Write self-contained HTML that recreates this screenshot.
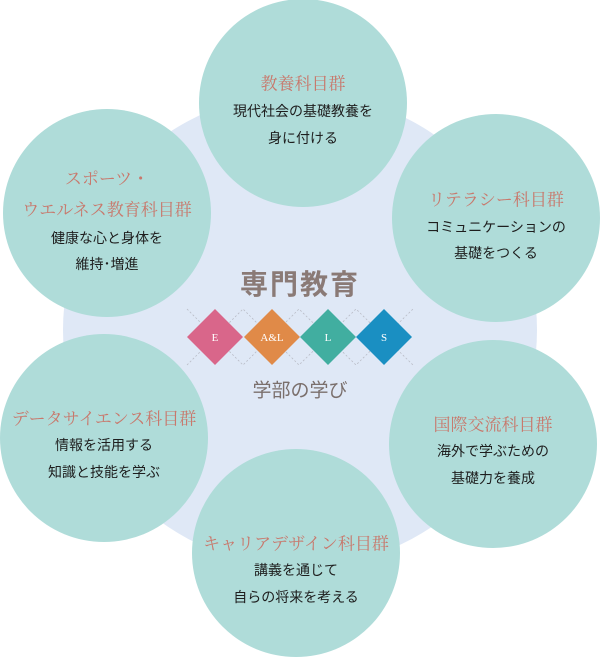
<!DOCTYPE html>
<html><head><meta charset="utf-8"><style>
html,body{margin:0;padding:0;background:#fff;}
body{width:600px;height:657px;position:relative;overflow:hidden;font-family:"Liberation Sans","Noto Sans CJK JP",sans-serif;}
.t{position:absolute;transform:translate(-50%,-50%);white-space:nowrap;text-align:center;}
.h{font-family:"Liberation Serif","Noto Serif CJK SC",serif;color:#c8786c;font-size:17px;}
.b{color:#1e1e1e;font-size:14px;}
</style></head><body>
<svg width="600" height="657" style="position:absolute;left:0;top:0">
<circle cx="300" cy="330" r="237" fill="#dfe8f6"/>
<g fill="#afdcd9">
<circle cx="303" cy="103" r="104"/>
<circle cx="107" cy="213" r="104"/>
<circle cx="496" cy="218" r="104"/>
<circle cx="104" cy="438" r="104"/>
<circle cx="493" cy="444" r="104"/>
<circle cx="296" cy="553" r="104"/>
</g>
<g stroke="#b9bcc6" stroke-width="0.8" stroke-dasharray="2,2" fill="none">
<path d="M187 309 L243 365 L299 309 L356 365 L413 309"/>
<path d="M187 365 L243 309 L299 365 L356 309 L413 365"/>
</g>
<polygon points="215,309 243,337 215,365 187,337" fill="#d9668a"/>
<polygon points="272,309 300,337 272,365 244,337" fill="#e08a48"/>
<polygon points="328,309 356,337 328,365 300,337" fill="#41aea0"/>
<polygon points="384,309 412,337 384,365 356,337" fill="#1a8fc2"/>
<g fill="#fff" font-family="Liberation Serif,serif" font-size="11" text-anchor="middle">
<text x="215" y="341">E</text><text x="272" y="341">A&amp;L</text><text x="328" y="341">L</text><text x="384" y="341">S</text>
</g>
</svg>
<div class="t" style="left:300px;top:283px;font-size:28px;font-weight:bold;color:#8a7a76;letter-spacing:2px">専門教育</div>
<div class="t" style="left:300px;top:389px;font-size:19px;color:#7a6f6c">学部の学び</div>

<div class="t h" style="left:303px;top:82px">教養科目群</div>
<div class="t b" style="left:303px;top:111px">現代社会の基礎教養を</div>
<div class="t b" style="left:303px;top:138px">身に付ける</div>

<div class="t h" style="left:107px;top:177px">スポーツ・</div>
<div class="t h" style="left:107px;top:208px">ウエルネス教育科目群</div>
<div class="t b" style="left:107px;top:238px">健康な心と身体を</div>
<div class="t b" style="left:107px;top:264px">維持･増進</div>

<div class="t h" style="left:496px;top:198px">リテラシー科目群</div>
<div class="t b" style="left:496px;top:227px">コミュニケーションの</div>
<div class="t b" style="left:496px;top:253px">基礎をつくる</div>

<div class="t h" style="left:104px;top:417px">データサイエンス科目群</div>
<div class="t b" style="left:104px;top:445px">情報を活用する</div>
<div class="t b" style="left:104px;top:472px">知識と技能を学ぶ</div>

<div class="t h" style="left:493px;top:423px">国際交流科目群</div>
<div class="t b" style="left:493px;top:451px">海外で学ぶための</div>
<div class="t b" style="left:493px;top:478px">基礎力を養成</div>

<div class="t h" style="left:296px;top:542px">キャリアデザイン科目群</div>
<div class="t b" style="left:296px;top:570px">講義を通じて</div>
<div class="t b" style="left:296px;top:597px">自らの将来を考える</div>
</body></html>
